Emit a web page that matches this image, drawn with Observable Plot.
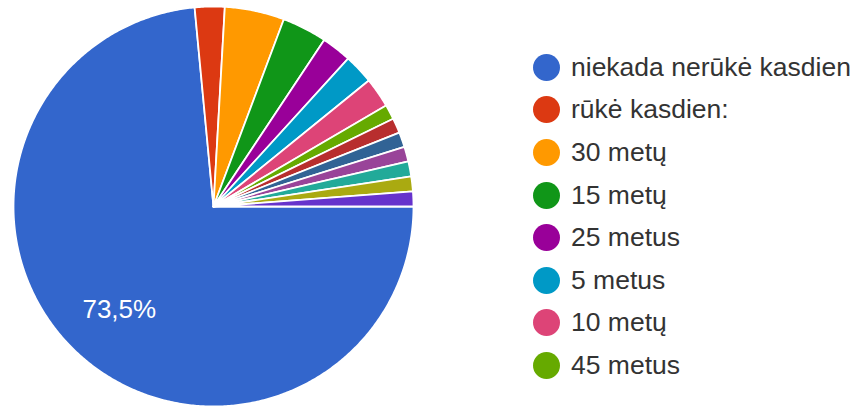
<!DOCTYPE html>
<html>
<head>
<meta charset="utf-8">
<script src="https://cdn.jsdelivr.net/npm/d3@7"></script>
<script src="https://cdn.jsdelivr.net/npm/@observablehq/plot@0.6"></script>
<style>
  html, body { margin: 0; padding: 0; background: #fff; }
  #wrap { position: relative; width: 859px; height: 407px; overflow: hidden; }
  #legend { position: absolute; left: 533px; top: 46px; font-family: "Liberation Sans", Arial, sans-serif; font-size: 26.5px; color: #333; }
  .item { display: flex; align-items: center; height: 42.6px; white-space: nowrap; }
  .sw { width: 27px; height: 27px; border-radius: 50%; margin-right: 11px; flex: none; }
</style>
</head>
<body>
<div id="wrap"></div>
<script>
// Slice categories (clockwise order), response counts, Google palette colours
const categories = ["niekada nerūkė kasdien", "rūkė kasdien:", "30 metų", "15 metų", "25 metus", "5 metus", "10 metų", "45 metus",
  "kita 9", "kita 10", "kita 11", "kita 12", "kita 13", "kita 14"];
const counts = [61, 2, 4, 3, 2, 2, 2, 1, 1, 1, 1, 1, 1, 1];
const colors = ["#3366cc", "#dc3912", "#ff9900", "#109618", "#990099", "#0099c6", "#dd4477", "#66aa00",
  "#b82e2e", "#316395", "#994499", "#22aa99", "#aaaa11", "#6633cc"];
const legendShown = 8;

const total = d3.sum(counts);
const startAngle = Math.PI / 2; // starts at 3 o'clock, clockwise
const pie = d3.pie().sort(null).startAngle(startAngle).endAngle(startAngle + 2 * Math.PI);
const arcs = pie(counts);

// polygon vertices for each slice (angle clockwise from north)
const verts = [];
arcs.forEach((a, i) => {
  const cat = categories[i];
  verts.push({cat, x: 0, y: 0});
  const n = Math.max(2, Math.ceil((a.endAngle - a.startAngle) / (Math.PI / 360)));
  for (let k = 0; k <= n; k++) {
    const t = a.startAngle + (a.endAngle - a.startAngle) * k / n;
    verts.push({cat, x: Math.sin(t), y: Math.cos(t)});
  }
  verts.push({cat, x: 0, y: 0});
});

// percentage labels (only for large slices)
const labels = arcs.map((a, i) => {
  const m = (a.startAngle + a.endAngle) / 2;
  const p = counts[i] / total * 100;
  return {cat: categories[i], x: 0.7 * Math.sin(m), y: 0.7 * Math.cos(m), text: p.toFixed(1).replace(".", ",") + "%", p};
}).filter(d => d.p > 10);

const cx = 213, cy = 206, r = 200;
const plot = Plot.plot({
  width: 859,
  height: 407,
  margin: 0,
  x: {domain: [-1, 1], range: [cx - r, cx + r], axis: null},
  y: {domain: [-1, 1], range: [cy + r, cy - r], axis: null},
  color: {domain: categories, range: colors},
  style: {background: "#fff", fontFamily: "Liberation Sans, Arial, sans-serif"},
  marks: [
    Plot.line(verts, {x: "x", y: "y", z: "cat", fill: "cat", stroke: "#fff", strokeWidth: 1.8, curve: "linear", strokeLinejoin: "round"}),
    Plot.text(labels, {x: "x", y: "y", text: "text", fill: "#fff", fontSize: 26, textAnchor: "middle"})
  ]
});

const wrap = document.getElementById("wrap");
wrap.appendChild(plot);
const colorScale = plot.scale("color");
const legend = document.createElement("div");
legend.id = "legend";
categories.slice(0, legendShown).forEach((c, i) => {
  const item = document.createElement("div");
  item.className = "item";
  const sw = document.createElement("span");
  sw.className = "sw";
  sw.style.background = colorScale.apply(c);
  const tx = document.createElement("span");
  tx.textContent = c;
  item.appendChild(sw);
  item.appendChild(tx);
  legend.appendChild(item);
});
wrap.appendChild(legend);
</script>
</body>
</html>
